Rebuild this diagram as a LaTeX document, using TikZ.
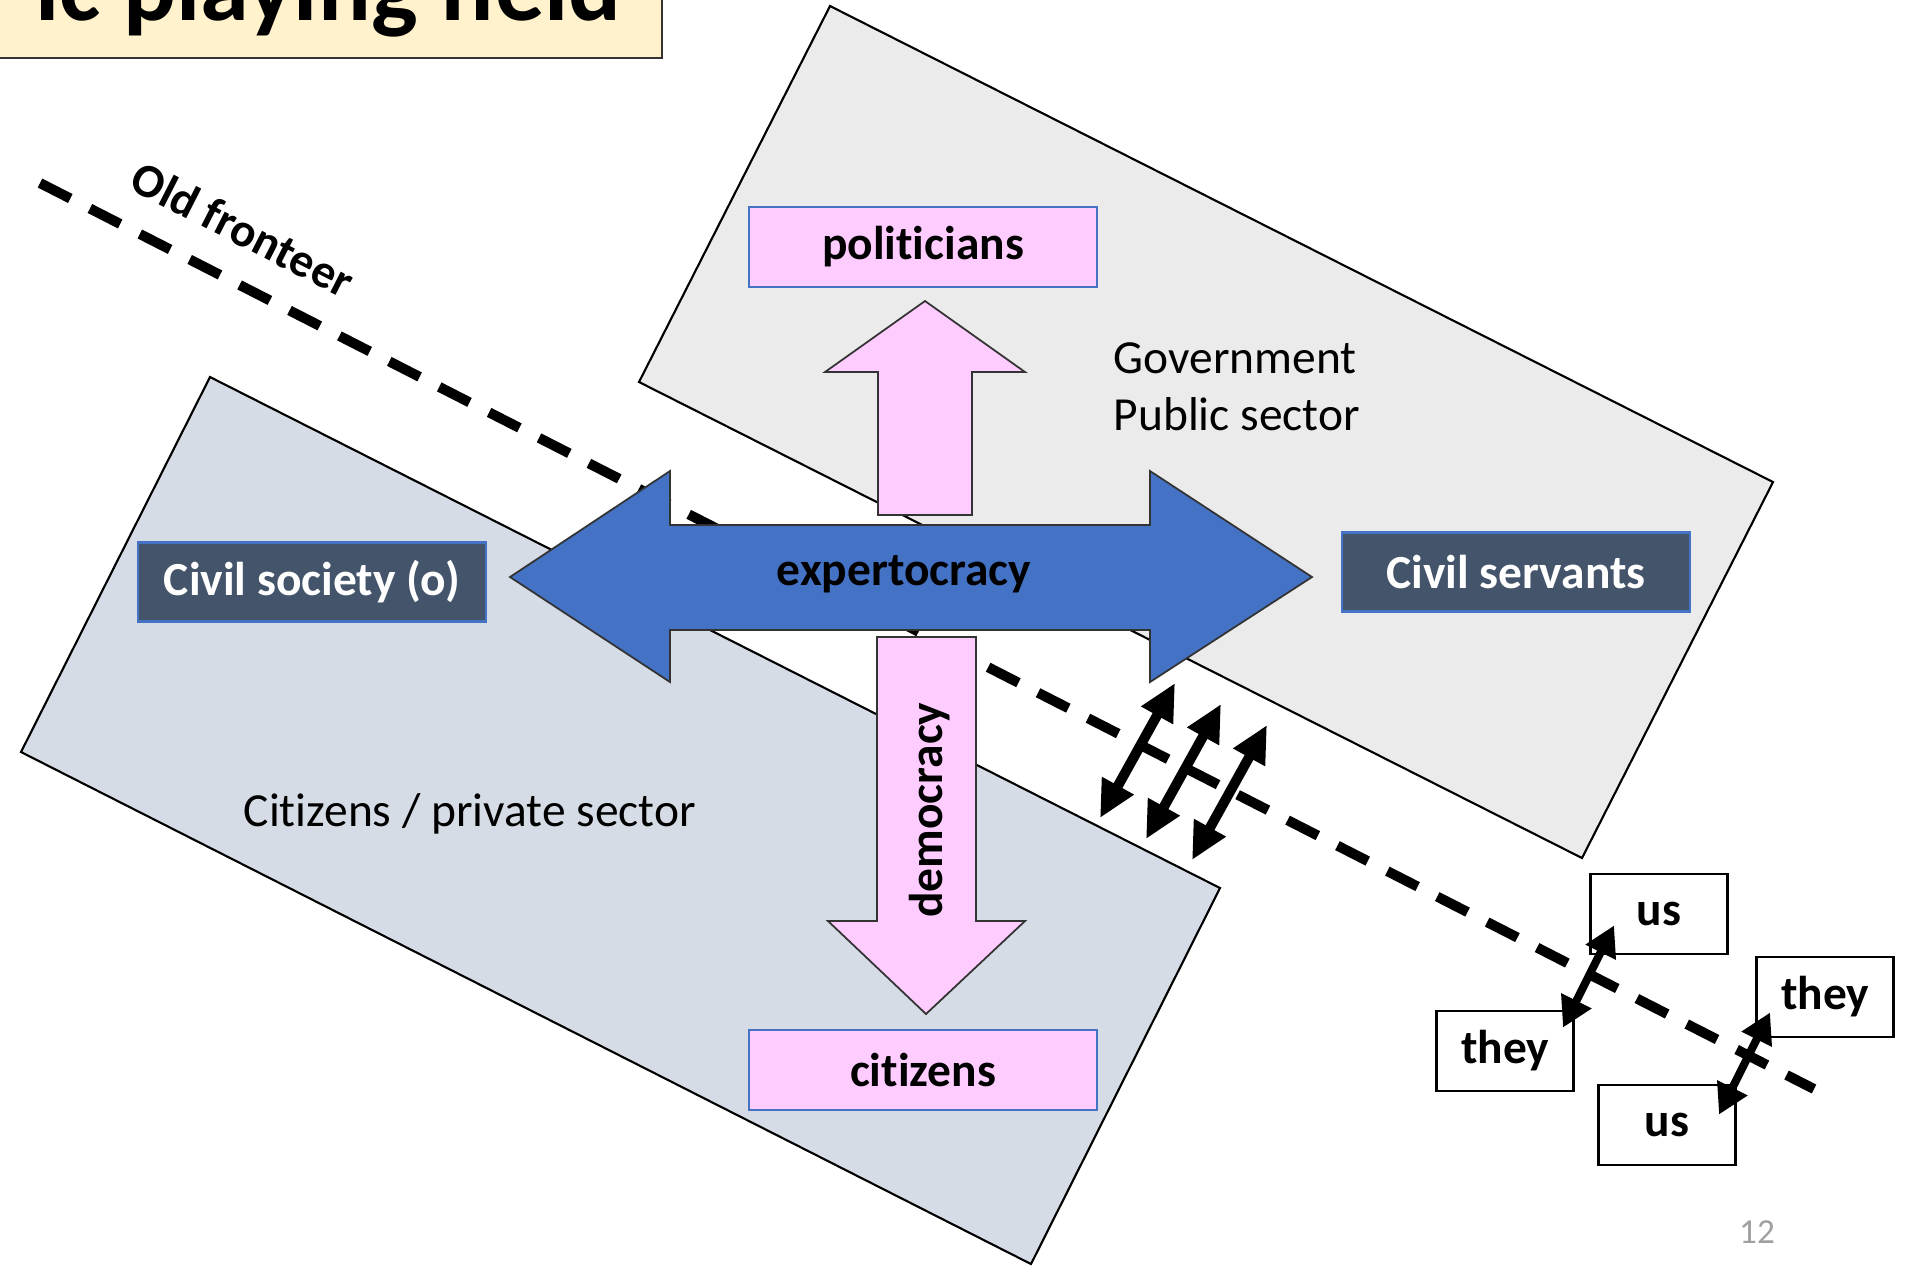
\documentclass[tikz,border=0pt]{standalone}
\usepackage{fontspec}
\setmainfont[Ligatures=NoCommon]{Carlito}
\usepackage{tikz}
\usetikzlibrary{arrows.meta, calc, positioning}
\definecolor{citfill}{HTML}{D6DCE5}
\definecolor{govfill}{HTML}{EBEBEB}
\definecolor{pinkfill}{HTML}{FFCCFF}
\definecolor{expblue}{HTML}{4472C4}
\definecolor{slate}{HTML}{44546A}
\definecolor{titlefill}{HTML}{FFF2CC}
\definecolor{pagegrey}{HTML}{A0A0A0}
\newcommand{\bodyfont}{\fontsize{13.5}{16.2}\selectfont}
\tikzstyle{field} = [draw=black, line width=0.6pt]
\tikzstyle{titlebox} = [draw=black!80, line width=0.8pt, fill=titlefill]
\tikzstyle{fronteer} = [line width=1mm, dash pattern=on 3.4mm off 2.2mm]
\tikzstyle{blockarrow} = [draw=black!80, line width=0.5pt]
\tikzstyle{boldlabel} = [font=\bodyfont\bfseries]
\tikzstyle{pinkrole} = [rectangle, draw=expblue, line width=0.6pt, fill=pinkfill, minimum width=3.48cm, minimum height=0.8cm, boldlabel, text centered]
\tikzstyle{darkrole} = [rectangle, draw=expblue, line width=0.6pt, fill=slate, text=white, minimum width=3.48cm, minimum height=0.79cm, boldlabel, text centered]
\tikzstyle{side} = [rectangle, draw=black, line width=0.8pt, fill=white, minimum width=1.37cm, minimum height=0.8cm, boldlabel]
\tikzstyle{crossarrow} = [line width=1mm, <->, >={Triangle[length=3.7mm, width=3.4mm]}]
\tikzstyle{pairarrow} = [line width=0.8mm, <->, >={Triangle[length=3mm, width=3.2mm]}]

\begin{document}
\begin{tikzpicture}[x=0.01cm, y=-0.01cm, font=\bodyfont]
	\useasboundingbox (0,0) rectangle (1913,1265);
	\clip (0,0) rectangle (1913,1265);
	% the two sides of the field
	\draw [field, fill=citfill] (210,377) -- (1220,888) -- (1031,1264) -- (21,752) -- cycle;
	\draw [field, fill=govfill] (830,6) -- (1773,482) -- (1582,858) -- (639,382) -- cycle;
	\draw [titlebox] (-5,-100) rectangle (662,58);
	\node (title) [anchor=base east, font=\fontsize{28}{34}\selectfont\bfseries] at (634,20) {ic playing field};
	\coordinate (frontW) at (40,183);
	\coordinate (frontE) at (1814,1089);
	\draw [fronteer] (frontW) -- (frontE);
	\node (oldfront) [rotate=-27, boldlabel] at (243,229) {Old fronteer};
	\node (govlabel) [anchor=west, align=left, inner sep=0pt] at (1113,387) {Government\\Public sector};
	\node (citlabel) [anchor=west, inner sep=0pt] at (243,814) {Citizens / private sector};
	% block arrows
	\draw [blockarrow, fill=pinkfill] (878,515) -- (878,372) -- (825,372) -- (925,301) -- (1025,372) -- (972,372) -- (972,515) -- cycle;
	\draw [blockarrow, fill=pinkfill] (877,637) -- (976,637) -- (976,921) -- (1025,921) -- (926,1014) -- (828,921) -- (877,921) -- cycle;
	\draw [blockarrow, fill=expblue] (510,577) -- (670,471) -- (670,525) -- (1150,525) -- (1150,471) -- (1312,577) -- (1150,682) -- (1150,630) -- (670,630) -- (670,682) -- cycle;
	\node (expert) [boldlabel] at (904,574) {expertocracy};
	\node (democ) [rotate=90, boldlabel] at (930,810) {democracy};
	% actors
	\node (politicians) [pinkrole] at (923,247) {politicians};
	\node (citizens) [pinkrole, below = 7.40cm of politicians] {citizens};
	\node (civsoc) [darkrole] at (312,582) {Civil society (o)};
	\node (civserv) [darkrole] at (1516,572) {Civil servants};
	% crossings
	\foreach \i in {0,1,2} {
		\coordinate (up\i) at ($(1175,683)+\i*(46,21)$);
		\coordinate (dn\i) at ($(1100,818)+\i*(46,21)$);
		\draw [crossarrow] (dn\i) -- (up\i);
	}
	\node (us1) [side] at (1659,914) {us};
	\node (they1) [side] at (1505,1051) {they};
	\node (they2) [side] at (1825,997) {they};
	\node (us2) [side] at (1667,1125) {us};
	\draw [pairarrow] ([shift={(-12,18)}]they1.north east) -- ([shift={(25,-30)}]us1.south west);
	\draw [pairarrow] ([shift={(-18,31)}]us2.north east) -- ([shift={(15,-26)}]they2.south west);
	\node (pagenum) [text=pagegrey, font=\fontsize{10}{12}\selectfont] at (1757,1232) {12};
\end{tikzpicture}
\end{document}
